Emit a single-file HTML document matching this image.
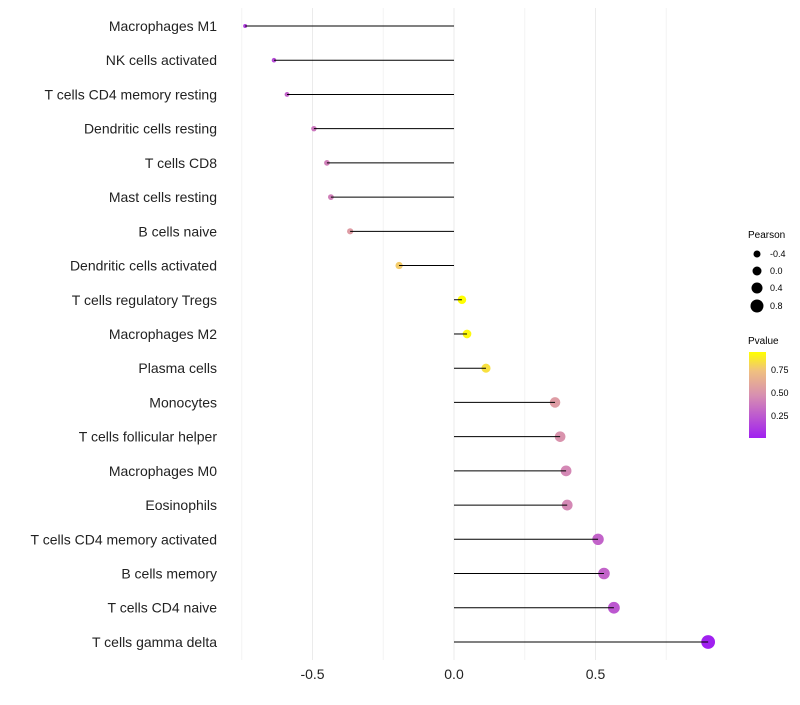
<!DOCTYPE html>
<html><head><meta charset="utf-8"><style>
body{margin:0;background:#fff;font-family:"Liberation Sans",sans-serif}
</style></head><body>
<svg id="chart" width="800" height="700" xmlns="http://www.w3.org/2000/svg">
<defs><linearGradient id="pg" x1="0" y1="1" x2="0" y2="0">
<stop offset="0" stop-color="#a020f0"/><stop offset="0.5" stop-color="#d890b0"/><stop offset="0.78" stop-color="#f0c080"/><stop offset="1" stop-color="#ffff00"/>
</linearGradient></defs>
<g id="grid"></g><g id="pts"></g><g id="marks"></g><g id="labels"></g>
<g font-size="9" fill="#000">
<text x="748" y="238" font-size="10">Pearson</text>
<circle cx="757" cy="254" r="3.5"/><text x="770" y="257">-0.4</text>
<circle cx="757" cy="271" r="4.5"/><text x="770" y="274">0.0</text>
<circle cx="757" cy="288" r="5.5"/><text x="770" y="291">0.4</text>
<circle cx="757" cy="306" r="6.5"/><text x="770" y="309">0.8</text>
<text x="748" y="344" font-size="10">Pvalue</text>
<rect x="749" y="352" width="17" height="86" fill="url(#pg)"/>
<text x="771" y="373">0.75</text><text x="771" y="396">0.50</text><text x="771" y="419">0.25</text>
</g>
</svg>
<script>
const categories=["Macrophages M1","NK cells activated","T cells CD4 memory resting","Dendritic cells resting","T cells CD8","Mast cells resting","B cells naive","Dendritic cells activated","T cells regulatory  Tregs","Macrophages M2","Plasma cells","Monocytes","T cells follicular helper","Macrophages M0","Eosinophils","T cells CD4 memory activated","B cells memory","T cells CD4 naive","T cells gamma delta"];
const pearson=[-0.738,-0.636,-0.59,-0.495,-0.449,-0.435,-0.367,-0.194,0.028,0.046,0.113,0.357,0.375,0.396,0.4,0.509,0.53,0.565,0.898];
const pvalue=[0.15,0.2,0.3,0.38,0.42,0.42,0.55,0.78,0.95,0.93,0.85,0.55,0.5,0.45,0.45,0.3,0.3,0.25,0.02];
const xTicks=[-0.5,0,0.5];
const xTickLabels=["-0.5","0.0","0.5"];
const ns="http://www.w3.org/2000/svg";
const x=v=>454+v*283;
const y=i=>26+i*34.22;
const rad=v=>4.2+3*v;
function lerp(a,b,t){return a.map((c,i)=>Math.round(c+(b[i]-c)*t));}
function col(p){const s=[[0,[160,32,240]],[0.5,[216,144,176]],[0.78,[240,192,128]],[1,[255,255,0]]];
 const t=(p-0.02)/0.93;const tt=Math.max(0,Math.min(1,t));
 for(let i=1;i<s.length;i++){if(tt<=s[i][0]){const c=lerp(s[i-1][1],s[i][1],(tt-s[i-1][0])/(s[i][0]-s[i-1][0]));return `rgb(${c})`;}}
 return "rgb(255,255,0)";}
function mk(t,a,p){const e=document.createElementNS(ns,t);for(const k in a)e.setAttribute(k,a[k]);p.appendChild(e);return e;}
const grid=document.getElementById('grid'),marks=document.getElementById('marks'),pts=document.getElementById('pts'),labels=document.getElementById('labels');
[-0.75,-0.25,0.25,0.75].forEach(v=>{const l=mk('line',{x1:x(v),x2:x(v),y1:8,y2:660,stroke:'#f4f4f4','stroke-width':1},grid);

});
xTicks.forEach((v,i)=>{const l=mk('line',{x1:x(v),x2:x(v),y1:8,y2:660,stroke:'#ebebeb','stroke-width':1},grid);


const t=mk('text',{x:x(v),y:679,'text-anchor':'middle','font-size':14,fill:'#222'},labels);t.textContent=xTickLabels[i];

});
categories.forEach((c,i)=>{
 const ci=mk('circle',{cx:x(pearson[i]),cy:y(i),r:rad(pearson[i]),fill:col(pvalue[i])},pts);
 
 
 const l=mk('line',{x1:x(0),x2:x(pearson[i]),y1:y(i),y2:y(i),stroke:'#000','stroke-width':1},marks);
 
 
 const t=mk('text',{x:217,y:y(i)+5,'text-anchor':'end','font-size':14,fill:'#222'},labels);t.textContent=c;
 
 
});
</script>
</body></html>
